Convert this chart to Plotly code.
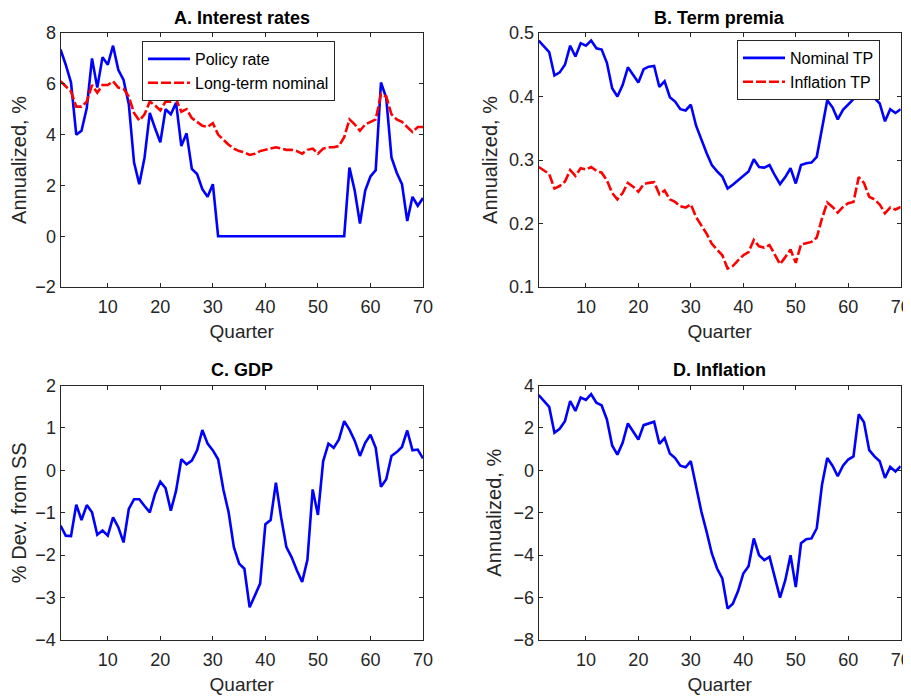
import plotly.graph_objects as go
from plotly.subplots import make_subplots

quarters = list(range(1, 71))

# A. Interest rates
policy_rate = [7.35, 6.75, 6.05, 4.0, 4.15, 5.05, 7.0, 5.85, 7.05, 6.75,
               7.5, 6.55, 6.15, 5.2, 2.9, 2.05, 3.1, 4.85, 4.25, 3.7,
               5.0, 4.8, 5.25, 3.55, 4.05, 2.65, 2.45, 1.85, 1.55, 2.05,
               0, 0, 0, 0, 0, 0, 0, 0, 0, 0,
               0, 0, 0, 0, 0, 0, 0, 0, 0, 0,
               0, 0, 0, 0, 0, 2.7, 1.8, 0.5, 1.8, 2.35,
               2.6, 6.05, 5.45, 3.1, 2.5, 2.05, 0.6, 1.55, 1.2, 1.5]
long_term_nominal = [6.1, 5.9, 5.7, 5.1, 5.1, 5.3, 5.95, 5.65, 5.95, 5.95,
                     6.1, 5.85, 5.8, 5.5, 4.85, 4.55, 4.8, 5.3, 5.15, 4.95,
                     5.3, 5.3, 5.4, 4.9, 5.0, 4.65, 4.5, 4.35, 4.3, 4.45,
                     4.0, 3.8, 3.6, 3.45, 3.35, 3.3, 3.2, 3.25, 3.35, 3.4,
                     3.45, 3.5, 3.45, 3.4, 3.4, 3.35, 3.25, 3.4, 3.45, 3.25,
                     3.45, 3.5, 3.5, 3.55, 3.9, 4.6, 4.4, 4.15, 4.4, 4.5,
                     4.6, 5.6, 5.5, 4.8, 4.6, 4.5, 4.3, 4.1, 4.3, 4.3]

# B. Term premia
nominal_tp = [0.488, 0.479, 0.470, 0.433, 0.438, 0.450, 0.480, 0.463, 0.484, 0.480,
              0.488, 0.476, 0.474, 0.453, 0.413, 0.400, 0.418, 0.446, 0.434, 0.422,
              0.443, 0.447, 0.448, 0.415, 0.424, 0.399, 0.392, 0.380, 0.378, 0.387,
              0.354, 0.331, 0.311, 0.292, 0.282, 0.274, 0.255, 0.261, 0.268, 0.275,
              0.282, 0.301, 0.289, 0.288, 0.292, 0.276, 0.262, 0.273, 0.287, 0.263,
              0.292, 0.295, 0.296, 0.305, 0.347, 0.394, 0.383, 0.364, 0.379, 0.387,
              0.396, 0.445, 0.435, 0.406, 0.397, 0.389, 0.361, 0.380, 0.374, 0.380]
inflation_tp = [0.289, 0.283, 0.278, 0.255, 0.259, 0.266, 0.284, 0.275, 0.287, 0.285,
                0.289, 0.283, 0.280, 0.268, 0.248, 0.238, 0.248, 0.264, 0.258, 0.250,
                0.262, 0.264, 0.265, 0.246, 0.252, 0.238, 0.234, 0.227, 0.225, 0.230,
                0.210, 0.197, 0.184, 0.168, 0.159, 0.150, 0.129, 0.133, 0.142, 0.150,
                0.155, 0.174, 0.164, 0.162, 0.166, 0.150, 0.136, 0.147, 0.159, 0.138,
                0.167, 0.169, 0.171, 0.178, 0.208, 0.233, 0.226, 0.217, 0.226, 0.232,
                0.234, 0.273, 0.264, 0.242, 0.238, 0.230, 0.216, 0.225, 0.222, 0.226]

# C. GDP
gdp = [-1.3, -1.54, -1.55, -0.81, -1.17, -0.82, -0.99, -1.52, -1.42, -1.54,
       -1.11, -1.34, -1.7, -0.91, -0.68, -0.68, -0.84, -0.99, -0.55, -0.27,
       -0.42, -0.95, -0.48, 0.26, 0.14, 0.23, 0.47, 0.95, 0.63, 0.47,
       0.26, -0.45, -0.99, -1.81, -2.2, -2.32, -3.23, -2.97, -2.67, -1.27,
       -1.17, -0.29, -1.11, -1.81, -2.05, -2.36, -2.63, -2.11, -0.45, -1.05,
       0.22, 0.63, 0.53, 0.73, 1.16, 0.96, 0.7, 0.34, 0.65, 0.84,
       0.53, -0.39, -0.21, 0.34, 0.43, 0.55, 0.94, 0.47, 0.49, 0.28]

# D. Inflation
inflation = [3.55, 3.27, 2.99, 1.77, 1.96, 2.32, 3.27, 2.8, 3.43, 3.32,
             3.59, 3.19, 3.06, 2.4, 1.17, 0.74, 1.3, 2.21, 1.8, 1.45,
             2.13, 2.21, 2.29, 1.25, 1.52, 0.79, 0.58, 0.22, 0.14, 0.43,
             -0.84, -1.94, -2.89, -3.92, -4.63, -5.1, -6.52, -6.29, -5.69, -4.87,
             -4.52, -3.21, -4.0, -4.23, -4.08, -5.1, -6.0, -5.18, -4.0, -5.5,
             -3.44, -3.25, -3.21, -2.73, -0.68, 0.58, 0.22, -0.28, 0.22, 0.51,
             0.66, 2.64, 2.27, 0.95, 0.66, 0.43, -0.36, 0.16, -0.05, 0.19]

titles = ["A. Interest rates", "B. Term premia", "C. GDP", "D. Inflation"]
FONT = "Liberation Sans, Arial, sans-serif"
AXIS_COL = "#262626"
BLUE = "#0000FF"
RED = "#FF0000"
DASH = "10px,3px"

W, H = 911, 696
OFF = 8  # the page body adds 8px of margin, so shift everything back


def px_x(p):
    return (p - OFF) / W


def px_y(p):
    return 1 - (p - OFF) / H


fig = make_subplots(rows=2, cols=2)

fig.add_trace(go.Scatter(x=quarters, y=policy_rate, mode="lines", name="Policy rate",
                         line=dict(color=BLUE, width=2.6), legend="legend"), row=1, col=1)
fig.add_trace(go.Scatter(x=quarters, y=long_term_nominal, mode="lines", name="Long-term nominal",
                         line=dict(color=RED, width=2.6, dash=DASH), legend="legend"), row=1, col=1)
fig.add_trace(go.Scatter(x=quarters, y=nominal_tp, mode="lines", name="Nominal TP",
                         line=dict(color=BLUE, width=2.6), legend="legend2"), row=1, col=2)
fig.add_trace(go.Scatter(x=quarters, y=inflation_tp, mode="lines", name="Inflation TP",
                         line=dict(color=RED, width=2.6, dash=DASH), legend="legend2"), row=1, col=2)
fig.add_trace(go.Scatter(x=quarters, y=gdp, mode="lines", showlegend=False,
                         line=dict(color=BLUE, width=2.6)), row=2, col=1)
fig.add_trace(go.Scatter(x=quarters, y=inflation, mode="lines", showlegend=False,
                         line=dict(color=BLUE, width=2.6)), row=2, col=2)

# panel boxes in reference pixels
x_dom = [[px_x(60.5), px_x(423)], [px_x(538.7), px_x(900.7)]]
y_dom = [[px_y(287), px_y(33)], [px_y(640), px_y(385.5)]]
title_y = [17.5, 370]
y_ranges = [[-2, 8], [0.1, 0.5], [-4, 2], [-8, 4]]
y_dticks = [2, 0.1, 1, 2]
y_titles = ["Annualized, %", "Annualized, %", "% Dev. from SS", "Annualized, %"]

axis_style = dict(showline=True, linecolor=AXIS_COL, linewidth=1, mirror="ticks",
                  ticks="inside", ticklen=4, tickcolor=AXIS_COL, showgrid=False,
                  zeroline=False, automargin=False,
                  tickfont=dict(family=FONT, size=18, color=AXIS_COL))

for i in range(4):
    r, c = i // 2, i % 2
    fig.update_xaxes(domain=x_dom[c], range=[1, 70], tickvals=[10, 20, 30, 40, 50, 60, 70],
                     title=dict(text="Quarter", font=dict(family=FONT, size=19, color=AXIS_COL), standoff=9),
                     ticklabelstandoff=3, **axis_style, row=r + 1, col=c + 1)
    fig.update_yaxes(domain=y_dom[r], range=y_ranges[i], dtick=y_dticks[i],
                     title=dict(text=y_titles[i], font=dict(family=FONT, size=20, color=AXIS_COL), standoff=6),
                     **axis_style, row=r + 1, col=c + 1)
    fig.add_annotation(text="<b>" + titles[i] + "</b>", xref="paper", yref="paper",
                       x=(x_dom[c][0] + x_dom[c][1]) / 2, y=px_y(title_y[r]),
                       xanchor="center", yanchor="middle", showarrow=False, borderpad=0,
                       font=dict(family=FONT, size=18, color="black"))

legend_style = dict(bgcolor="white", bordercolor=AXIS_COL, borderwidth=1,
                    font=dict(family=FONT, size=16, color="black"),
                    xanchor="left", yanchor="top", tracegroupgap=0, itemwidth=42)

fig.update_layout(
    width=W, height=H,
    margin=dict(l=0, r=0, t=0, b=0),
    paper_bgcolor="white", plot_bgcolor="white",
    legend=dict(x=px_x(142), y=px_y(41), **legend_style),
    legend2=dict(x=px_x(737), y=px_y(40), **legend_style),
)

fig.write_html("out.html")
